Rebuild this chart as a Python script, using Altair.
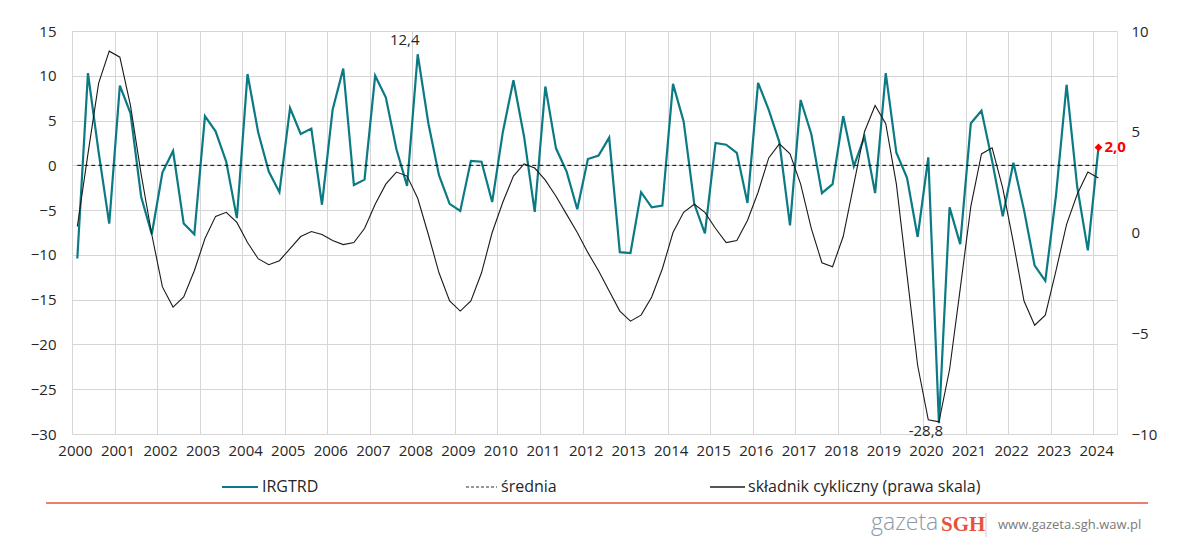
import altair as alt
import pandas as pd

years = list(range(2000, 2025))
quarters = [(y, q) for y in range(2000, 2024) for q in (1, 2, 3, 4)] + [(2024, 1)]

irgtrd = [
    -10.4, 10.3, 1.5, -6.5,
    8.9, 5.8, -3.5, -7.7,
    -0.8, 1.6, -6.5, -7.7,
    5.5, 3.8, 0.4, -5.9,
    10.2, 3.7, -0.7, -3.0,
    6.4, 3.5, 4.1, -4.4,
    6.2, 10.8, -2.2, -1.6,
    10.0, 7.6, 1.8, -2.3,
    12.4, 4.7, -1.1, -4.3,
    -5.1, 0.5, 0.4, -4.1,
    3.7, 9.5, 3.2, -5.2,
    8.8, 1.9, -0.7, -4.9,
    0.7, 1.1, 3.1, -9.7,
    -9.8, -3.0, -4.7, -4.5,
    9.1, 4.9, -4.3, -7.6,
    2.5, 2.3, 1.4, -4.2,
    9.2, 6.2, 2.6, -6.7,
    7.3, 3.5, -3.1, -2.1,
    5.5, -0.1, 3.2, -3.1,
    10.3, 1.4, -1.4, -8.0,
    0.9, -28.8, -4.7, -8.8,
    4.7, 6.1, 0.5, -5.7,
    0.3, -5.0, -11.2, -12.9,
    -3.4, 9.0, -2.4, -9.5,
    2.0,
]

cykl = [
    0.3, 3.9, 7.4, 9.0,
    8.7, 6.3, 2.9, -0.1,
    -2.7, -3.7, -3.2, -1.9,
    -0.3, 0.8, 1.0, 0.5,
    -0.5, -1.3, -1.6, -1.4,
    -0.8, -0.2, 0.05, -0.1,
    -0.4, -0.6, -0.5, 0.2,
    1.4, 2.4, 3.0, 2.8,
    1.7, -0.1, -2.0, -3.4,
    -3.9, -3.4, -2.0, 0.0,
    1.5, 2.8, 3.4, 3.2,
    2.6, 1.8, 0.9, 0.0,
    -1.0, -1.9, -2.9, -3.9,
    -4.4, -4.1, -3.2, -1.8,
    0.0, 1.0, 1.4, 1.0,
    0.2, -0.5, -0.4, 0.6,
    2.0, 3.7, 4.4, 3.9,
    2.4, 0.2, -1.5, -1.7,
    -0.2, 2.4, 5.0, 6.3,
    5.4, 2.4, -2.1, -6.6,
    -9.3, -9.4, -6.8, -2.8,
    1.3, 3.9, 4.2, 2.2,
    -0.5, -3.4, -4.6, -4.1,
    -1.9, 0.4, 1.9, 3.0,
    2.7,
]

srednia = 0.0

legend_labels = ["IRGTRD", "średnia", "składnik cykliczny (prawa skala)"]

TEAL = "#0b7a84"
FONT = "Open Sans"
TXT = "#262626"
GRID = "#d6d6d6"
RED = "#e5533d"

df = pd.DataFrame({
    "t": [y + (q - 0.5) / 4 for (y, q) in quarters],
    "irgtrd": irgtrd,
    "cykl": cykl,
})

def fmt(v):
    return f"{v:.1f}".replace(".", ",")

imax = df["irgtrd"].idxmax()
imin = df["irgtrd"].idxmin()
ann_hi = pd.DataFrame({"t": [df.t[imax]], "v": [df.irgtrd[imax]], "label": [fmt(df.irgtrd[imax])]})
ann_lo = pd.DataFrame({"t": [df.t[imin]], "v": [df.irgtrd[imin]], "label": [fmt(df.irgtrd[imin])]})
last = pd.DataFrame({"t": [df.t.iloc[-1]], "v": [df.irgtrd.iloc[-1]], "label": [fmt(df.irgtrd.iloc[-1])]})

xscale = alt.Scale(domain=[2000, 2024.56], nice=False, zero=False)
xaxis = alt.Axis(values=years, format="d", title=None, grid=True, gridColor=GRID,
                 gridWidth=1, gridOpacity=1, domain=False, ticks=False, labelPadding=9,
                 labelOffset=3, labelOverlap=False, labelFlush=False, labelBound=False,
                 labelFontSize=15, labelFont=FONT, labelColor=TXT)
yscale_l = alt.Scale(domain=[-30, 15], nice=False, zero=False)
yaxis_l = alt.Axis(values=list(range(-30, 16, 5)), title=None, grid=True, gridColor=GRID,
                   gridWidth=1, gridOpacity=1, domain=False, ticks=False, labelPadding=16,
                   labelOverlap=False, labelFlush=False,
                   labelFontSize=15, labelFont=FONT, labelColor=TXT)
yscale_r = alt.Scale(domain=[-10, 10], nice=False, zero=False)
yaxis_r = alt.Axis(values=[-10, -5, 0, 5, 10], title=None, grid=False, orient="right",
                   domain=False, ticks=False, labelPadding=14, labelAlign="left",
                   labelOverlap=False, labelFlush=False,
                   labelFontSize=15, labelFont=FONT, labelColor=TXT)

base = alt.Chart(df)

teal = base.mark_line(color=TEAL, strokeWidth=2.2).encode(
    x=alt.X("t:Q", scale=xscale, axis=xaxis),
    y=alt.Y("irgtrd:Q", scale=yscale_l, axis=yaxis_l),
)
mean_rule = base.mark_rule(color="#000000", strokeWidth=1, strokeDash=[4, 3]).encode(
    x="min(t):Q", x2="max(t):Q", y=alt.datum(srednia)
)
hi_txt = alt.Chart(ann_hi).mark_text(font=FONT, fontSize=15, color=TXT, dx=-13, dy=-14).encode(
    x="t:Q", y="v:Q", text="label:N")
lo_txt = alt.Chart(ann_lo).mark_text(font=FONT, fontSize=15, color=TXT, dx=-13, dy=8).encode(
    x="t:Q", y="v:Q", text="label:N")
diamond = alt.Chart(last).mark_point(shape="diamond", filled=True, color="#ff0000", size=60, opacity=1).encode(
    x="t:Q", y="v:Q")
last_txt = alt.Chart(last).mark_text(font=FONT, fontSize=15, fontWeight="bold", color="#ff0000",
                                     align="left", dx=6).encode(x="t:Q", y="v:Q", text="label:N")

one = pd.DataFrame({"a": [0]})
leg_lines = [
    alt.Chart(one).mark_rule(color=TEAL, strokeWidth=2).encode(
        x=alt.value(150), x2=alt.value(186), y=alt.value(456)),
    alt.Chart(one).mark_rule(color="#333333", strokeWidth=1.2, strokeDash=[3, 2]).encode(
        x=alt.value(394), x2=alt.value(425), y=alt.value(456)),
    alt.Chart(one).mark_rule(color="#555555", strokeWidth=2).encode(
        x=alt.value(638), x2=alt.value(673), y=alt.value(456)),
]
leg_x = [190, 429, 676]
leg_texts = [
    alt.Chart(pd.DataFrame({"label": [lab]})).mark_text(
        font=FONT, fontSize=16, color=TXT, align="left", baseline="middle").encode(
        x=alt.value(px), y=alt.value(456), text="label:N")
    for lab, px in zip(legend_labels, leg_x)
]
sep = alt.Chart(one).mark_rule(color=RED, strokeWidth=1.3).encode(
    x=alt.value(-26), x2=alt.value(1076), y=alt.value(472))
foot_g = alt.Chart(pd.DataFrame({"label": ["gazeta"]})).mark_text(
    font=FONT, fontSize=23, fontWeight=300, color="#8a9aa6", align="left", baseline="middle").encode(
    x=alt.value(799), y=alt.value(492), text="label:N")
foot_s = alt.Chart(pd.DataFrame({"label": ["SGH"]})).mark_text(
    font="Liberation Serif", fontSize=21, fontWeight="bold", color=RED, align="left", baseline="middle").encode(
    x=alt.value(869), y=alt.value(494), text="label:N")
foot_bar = alt.Chart(one).mark_rule(color="#cccccc", strokeWidth=1).encode(
    x=alt.value(914), y=alt.value(482), y2=alt.value(506))
foot_url = alt.Chart(pd.DataFrame({"label": ["www.gazeta.sgh.waw.pl"]})).mark_text(
    font=FONT, fontSize=13, color="#7a7a7a", align="left", baseline="middle").encode(
    x=alt.value(926), y=alt.value(494), text="label:N")

left = alt.layer(teal, mean_rule, hi_txt, lo_txt, diamond, last_txt,
                 *leg_lines, *leg_texts, sep, foot_g, foot_s, foot_bar, foot_url)

black = base.mark_line(color="#1a1a1a", strokeWidth=1.1).encode(
    x=alt.X("t:Q", scale=xscale, axis=xaxis),
    y=alt.Y("cykl:Q", scale=yscale_r, axis=yaxis_r),
)

chart = alt.layer(left, black).resolve_scale(y="independent").properties(
    width=1045, height=403,
    autosize=alt.AutoSizeParams(type="none"),
    padding={"left": 64, "top": 23, "right": 60, "bottom": 110},
).configure_view(stroke=None).configure(background="white")

chart.save("out.html", embed_options={"renderer": "svg", "actions": False})
